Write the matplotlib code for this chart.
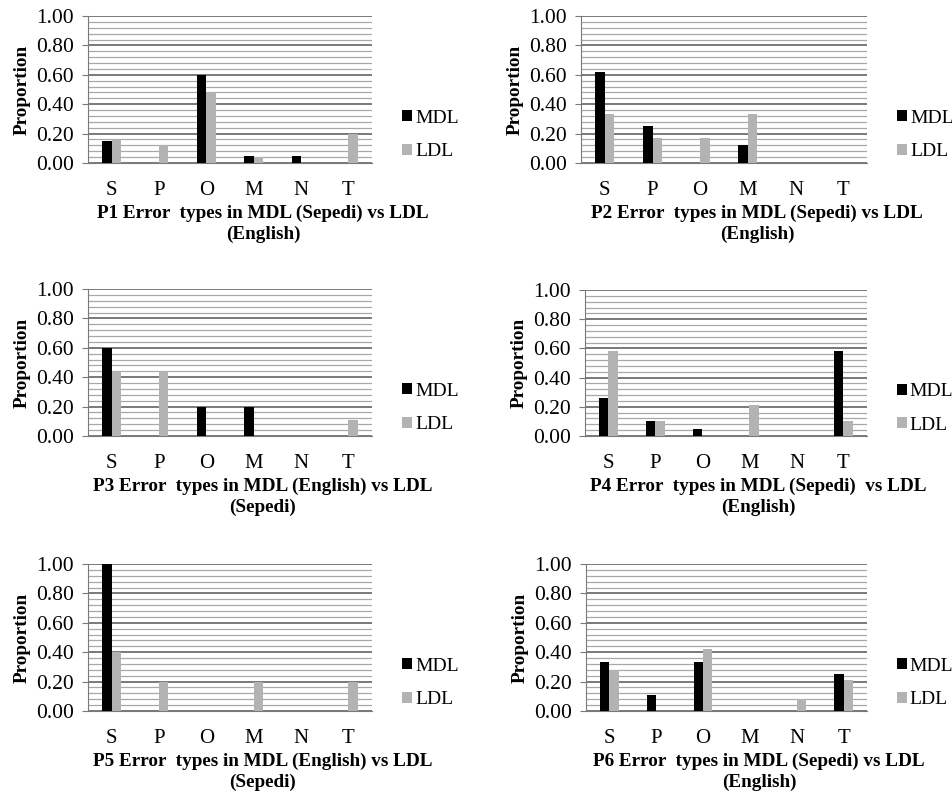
import numpy as np
import matplotlib.pyplot as plt
from matplotlib.ticker import MultipleLocator

plt.rcParams['font.family'] = ['Liberation Serif', 'DejaVu Serif']

categories = ["S", "P", "O", "M", "N", "T"]

# proportions per participant
p1_mdl = [0.15, 0.00, 0.60, 0.05, 0.05, 0.00]
p1_ldl = [0.16, 0.12, 0.48, 0.04, 0.00, 0.20]
p2_mdl = [0.62, 0.25, 0.00, 0.125, 0.00, 0.00]
p2_ldl = [0.33, 0.167, 0.167, 0.33, 0.00, 0.00]
p3_mdl = [0.60, 0.00, 0.20, 0.20, 0.00, 0.00]
p3_ldl = [0.44, 0.44, 0.00, 0.00, 0.00, 0.11]
p4_mdl = [0.26, 0.105, 0.05, 0.00, 0.00, 0.58]
p4_ldl = [0.58, 0.10, 0.00, 0.21, 0.00, 0.10]
p5_mdl = [1.00, 0.00, 0.00, 0.00, 0.00, 0.00]
p5_ldl = [0.40, 0.20, 0.00, 0.20, 0.00, 0.20]
p6_mdl = [0.33, 0.11, 0.33, 0.00, 0.00, 0.25]
p6_ldl = [0.28, 0.00, 0.42, 0.00, 0.08, 0.21]

titles = [
    "P1 Error  types in MDL (Sepedi) vs LDL\n(English)",
    "P2 Error  types in MDL (Sepedi) vs LDL\n(English)",
    "P3 Error  types in MDL (English) vs LDL\n(Sepedi)",
    "P4 Error  types in MDL (Sepedi)  vs LDL\n(English)",
    "P5 Error  types in MDL (English) vs LDL\n(Sepedi)",
    "P6 Error  types in MDL (Sepedi) vs LDL\n(English)",
]
mdl_sets = [p1_mdl, p2_mdl, p3_mdl, p4_mdl, p5_mdl, p6_mdl]
ldl_sets = [p1_ldl, p2_ldl, p3_ldl, p4_ldl, p5_ldl, p6_ldl]

W, H = 953, 797
fig = plt.figure(figsize=(W / 100, H / 100), dpi=100)

# axes boxes in pixels: left, top, right, bottom
boxes = [
    (88, 16, 372, 163), (581, 16, 867, 163),
    (88, 289, 372, 436), (585, 290, 867, 436),
    (88, 564, 372, 711), (586, 564, 867, 711),
]

x = np.arange(len(categories))
bw = 0.2
for i, (l, t, r, b) in enumerate(boxes):
    ax = fig.add_axes([l / W, 1 - b / H, (r - l) / W, (b - t) / H])
    ax.yaxis.set_major_locator(MultipleLocator(0.2))
    ax.yaxis.set_minor_locator(MultipleLocator(0.04))
    ax.grid(axis='y', which='minor', color='#a8a8a8', lw=0.9)
    ax.grid(axis='y', which='major', color='#6e6e6e', lw=1.3)
    ax.set_axisbelow(True)
    ax.bar(x - bw / 2, mdl_sets[i], bw, color='black', label='MDL', zorder=3)
    ax.bar(x + bw / 2, ldl_sets[i], bw, color='#b3b3b3', label='LDL', zorder=3)
    ax.set_ylim(0, 1.0)
    ax.set_xlim(-0.5, 5.5)
    ax.set_xticks(x)
    ax.set_xticklabels(categories, fontsize=15)
    ax.set_yticks(np.arange(0, 1.01, 0.2))
    ax.set_yticklabels([f"{v:.2f}" for v in np.arange(0, 1.01, 0.2)], fontsize=15.5)
    ax.tick_params(axis='x', length=0, pad=13)
    ax.tick_params(axis='y', which='major', length=4, color='#7a7a7a', pad=6)
    ax.tick_params(axis='y', which='minor', length=0)
    for s in ['top', 'right']:
        ax.spines[s].set_visible(False)
    ax.spines['left'].set_color('#7a7a7a')
    ax.spines['bottom'].set_color('#7a7a7a')
    ax.set_ylabel("Proportion", fontsize=13.8, fontweight='bold', labelpad=4)
    ax.set_xlabel(titles[i], fontsize=13.8, fontweight='bold', labelpad=3, linespacing=1.3)
    ax.xaxis.label.set_x(0.616)
    ax.legend(loc='center left', bbox_to_anchor=(1.045, 0.19), frameon=False,
              fontsize=14, handlelength=0.5, handleheight=0.5, handletextpad=0.15,
              labelspacing=0.85)

fig.savefig("out.png", dpi=100, facecolor='white')
